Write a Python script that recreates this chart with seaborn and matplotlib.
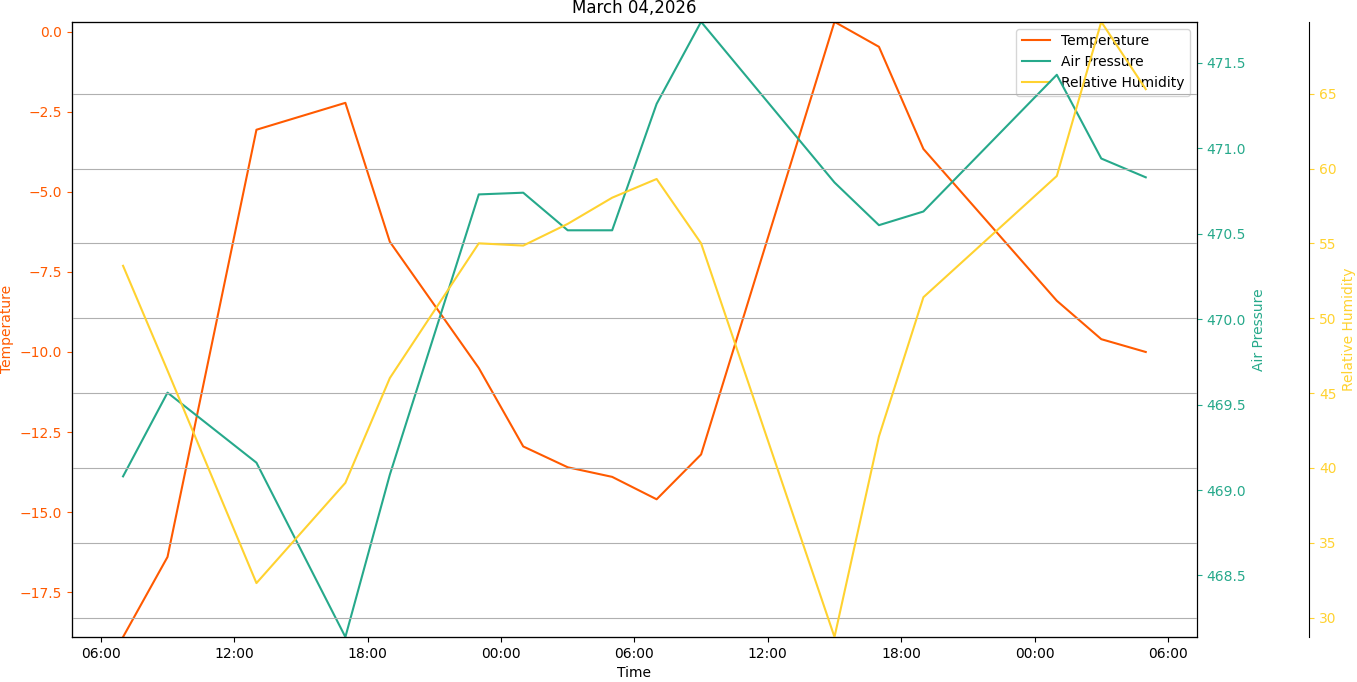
import matplotlib
matplotlib.use("Agg")
import matplotlib.pyplot as plt
import matplotlib.dates as mdates
import pandas as pd
import seaborn as sns

times = [
    "2026-03-03 07:00", "2026-03-03 09:00", "2026-03-03 13:00", "2026-03-03 17:00",
    "2026-03-03 19:00", "2026-03-03 23:00", "2026-03-04 01:00", "2026-03-04 03:00",
    "2026-03-04 05:00", "2026-03-04 07:00", "2026-03-04 09:00", "2026-03-04 15:00",
    "2026-03-04 17:00", "2026-03-04 19:00", "2026-03-05 01:00", "2026-03-05 03:00",
    "2026-03-05 05:00",
]
temperature = [-18.9, -16.4, -3.06, -2.22, -6.56, -10.5, -12.95, -13.6, -13.9, -14.6,
               -13.2, 0.31, -0.47, -3.66, -8.4, -9.6, -10.0]
air_pressure = [469.08, 469.57, 469.16, 468.14, 469.09, 470.73, 470.74, 470.52, 470.52,
                471.26, 471.74, 470.80, 470.55, 470.63, 471.43, 470.94, 470.83]
humidity = [53.5, 46.5, 32.3, 39.0, 46.0, 55.0, 54.85, 56.3, 58.05, 59.3, 55.0, 28.7,
            42.1, 51.4, 59.5, 69.8, 65.3]

c_temp = "#FF5A00"
c_pres = "#26A98B"
c_hum = "#FFD230"

df = pd.DataFrame({
    "Time": pd.to_datetime(times),
    "Temperature": temperature,
    "Air Pressure": air_pressure,
    "Relative Humidity": humidity,
})

fig, ax = plt.subplots(figsize=(13.57, 6.82), dpi=100)
fig.subplots_adjust(left=0.053, right=0.882, top=0.968, bottom=0.066)
ax2 = ax.twinx()
ax3 = ax.twinx()
ax3.spines["right"].set_position(("axes", 1.1))

sns.lineplot(data=df, x="Time", y="Temperature", ax=ax, color=c_temp, label="Temperature", legend=False)
sns.lineplot(data=df, x="Time", y="Air Pressure", ax=ax2, color=c_pres, label="Air Pressure", legend=False)
sns.lineplot(data=df, x="Time", y="Relative Humidity", ax=ax3, color=c_hum, label="Relative Humidity", legend=False)

ax.set_ylim(min(temperature), max(temperature))
ax2.set_ylim(min(air_pressure), max(air_pressure))
ax3.set_ylim(min(humidity), max(humidity))

ax.set_ylabel("Temperature", color=c_temp)
ax2.set_ylabel("Air Pressure", color=c_pres)
ax3.set_ylabel("Relative Humidity", color=c_hum)
ax.tick_params(axis="y", colors=c_temp)
ax2.tick_params(axis="y", colors=c_pres)
ax3.tick_params(axis="y", colors=c_hum)

ax.xaxis.set_major_locator(mdates.HourLocator(byhour=[0, 6, 12, 18]))
ax.xaxis.set_major_formatter(mdates.DateFormatter("%H:%M"))
ax.set_xlabel("Time")
ax.set_title("March 04,2026")

ax3.grid(True, axis="y")

handles = ax.get_lines() + ax2.get_lines() + ax3.get_lines()
ax.legend(handles, [h.get_label() for h in handles], loc="upper right")

plt.savefig("out.png")
